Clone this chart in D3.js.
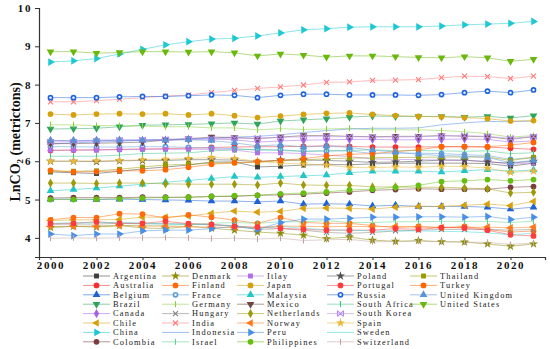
<!DOCTYPE html>
<html><head><meta charset="utf-8">
<script src="https://cdn.jsdelivr.net/npm/d3@7"></script>
<style>body{margin:0;background:#fff}svg{display:block}</style>
</head><body>
<svg id="chart" width="550" height="349"></svg>
<script>
const years = d3.range(2000, 2022);
const xTicks = [2000,2002,2004,2006,2008,2010,2012,2014,2016,2018,2020];
const yTicks = [4,5,6,7,8,9,10];

const argentina = [5.72,5.70,5.68,5.74,5.80,5.85,5.90,5.98,5.98,5.85,5.87,5.90,5.91,5.91,5.93,5.95,5.95,5.95,5.95,5.94,5.87,5.95];
const australia = [6.28,6.29,6.30,6.31,6.32,6.33,6.34,6.36,6.37,6.38,6.38,6.39,6.40,6.39,6.37,6.37,6.37,6.38,6.38,6.37,6.34,6.31];
const belgium = [5.01,5.01,5.00,5.01,5.00,4.99,4.98,4.96,4.96,4.94,4.96,4.88,4.89,4.88,4.83,4.85,4.82,4.82,4.82,4.80,4.75,4.80];
const brazil = [6.84,6.85,6.86,6.90,6.94,6.95,6.96,6.98,7.00,6.97,7.05,7.08,7.11,7.15,7.18,7.17,7.17,7.17,7.15,7.17,7.13,7.19];
const canada = [6.54,6.53,6.54,6.55,6.54,6.55,6.57,6.58,6.56,6.50,6.53,6.55,6.56,6.57,6.57,6.56,6.56,6.57,6.58,6.57,6.50,6.53];
const chile = [4.45,4.47,4.47,4.48,4.54,4.54,4.57,4.64,4.70,4.67,4.69,4.77,4.78,4.77,4.75,4.80,4.82,4.82,4.85,4.88,4.84,4.95];
const china = [8.59,8.62,8.68,8.80,8.92,9.04,9.12,9.19,9.21,9.27,9.35,9.43,9.46,9.50,9.51,9.51,9.51,9.53,9.56,9.58,9.60,9.65];
const colombia = [5.04,5.05,5.05,5.05,5.06,5.06,5.06,5.08,5.08,5.11,5.12,5.14,5.17,5.20,5.24,5.26,5.28,5.27,5.27,5.27,5.32,5.34];
const denmark = [4.27,4.30,4.28,4.32,4.26,4.24,4.30,4.25,4.20,4.15,4.12,4.07,3.98,4.02,3.94,3.91,3.93,3.90,3.89,3.84,3.78,3.84];
const finland = [4.47,4.53,4.53,4.63,4.62,4.52,4.60,4.54,4.46,4.38,4.53,4.40,4.38,4.38,4.32,4.27,4.30,4.27,4.30,4.22,4.15,4.18];
const france = [6.38,6.38,6.37,6.37,6.38,6.38,6.36,6.34,6.33,6.29,6.30,6.26,6.27,6.27,6.20,6.21,6.21,6.20,6.17,6.15,6.05,6.10];
const germany = [6.95,6.95,6.93,6.93,6.92,6.90,6.90,6.87,6.87,6.82,6.85,6.83,6.84,6.86,6.82,6.82,6.82,6.80,6.77,6.72,6.63,6.67];
const hungary = [4.35,4.36,4.36,4.38,4.37,4.37,4.36,4.34,4.32,4.22,4.24,4.20,4.14,4.12,4.14,4.18,4.20,4.22,4.22,4.22,4.20,4.22];
const india = [7.55,7.55,7.58,7.62,7.66,7.70,7.73,7.79,7.85,7.90,7.94,7.99,8.06,8.07,8.11,8.12,8.13,8.18,8.22,8.21,8.16,8.22];
const indonesia = [6.45,6.48,6.50,6.52,6.55,6.57,6.58,6.60,6.63,6.65,6.69,6.75,6.80,6.84,6.86,6.86,6.87,6.95,7.00,7.04,7.03,7.05];
const israel = [4.28,4.30,4.31,4.32,4.33,4.33,4.35,4.38,4.40,4.38,4.42,4.42,4.45,4.40,4.40,4.42,4.42,4.43,4.43,4.43,4.40,4.43];
const italy = [6.29,6.29,6.29,6.30,6.31,6.31,6.31,6.31,6.29,6.22,6.22,6.20,6.16,6.12,6.06,6.05,6.04,6.03,6.02,6.00,5.92,5.96];
const japan = [7.23,7.21,7.23,7.24,7.23,7.24,7.21,7.24,7.19,7.14,7.18,7.22,7.25,7.26,7.22,7.19,7.17,7.16,7.14,7.11,7.05,7.06];
const malaysia = [5.23,5.26,5.30,5.35,5.40,5.45,5.50,5.55,5.60,5.58,5.60,5.62,5.64,5.70,5.74,5.74,5.74,5.72,5.75,5.78,5.74,5.77];
const mexico = [6.46,6.46,6.47,6.48,6.50,6.55,6.59,6.63,6.62,6.59,6.63,6.67,6.67,6.65,6.64,6.65,6.65,6.67,6.65,6.64,6.57,6.64];
const netherlands = [5.43,5.43,5.42,5.43,5.43,5.41,5.40,5.40,5.40,5.38,5.43,5.38,5.37,5.37,5.33,5.33,5.32,5.32,5.30,5.28,5.17,5.19];
const norway = [4.30,4.30,4.30,4.32,4.31,4.30,4.29,4.28,4.27,4.27,4.31,4.30,4.29,4.30,4.29,4.30,4.28,4.27,4.27,4.28,4.26,4.28];
const peru = [4.10,4.06,4.10,4.10,4.18,4.20,4.20,4.24,4.30,4.22,4.40,4.49,4.49,4.51,4.54,4.54,4.55,4.55,4.54,4.56,4.48,4.54];
const philippines = [5.00,5.00,5.01,5.02,5.04,5.05,5.06,5.08,5.10,5.11,5.15,5.17,5.20,5.25,5.27,5.32,5.37,5.47,5.49,5.52,5.49,5.52];
const poland = [6.00,6.00,5.99,6.01,6.02,6.02,6.04,6.04,6.03,5.99,6.03,6.03,6.02,6.00,5.97,5.98,6.00,6.03,6.03,5.98,5.95,6.00];
const portugal = [4.37,4.38,4.42,4.38,4.38,4.43,4.37,4.35,4.30,4.28,4.25,4.22,4.20,4.20,4.20,4.24,4.22,4.27,4.26,4.20,4.08,4.05];
const russia = [7.66,7.66,7.66,7.68,7.69,7.69,7.71,7.73,7.72,7.66,7.72,7.75,7.75,7.73,7.73,7.73,7.72,7.74,7.79,7.83,7.79,7.86];
const southAfrica = [6.13,6.13,6.13,6.16,6.20,6.21,6.22,6.27,6.30,6.31,6.28,6.26,6.27,6.28,6.30,6.27,6.28,6.27,6.26,6.27,6.20,6.22];
const southKorea = [6.50,6.51,6.53,6.55,6.56,6.57,6.58,6.59,6.60,6.60,6.62,6.64,6.64,6.64,6.63,6.63,6.64,6.66,6.67,6.65,6.60,6.64];
const spain = [6.00,6.00,6.01,6.02,6.04,6.05,6.07,6.10,6.07,6.00,5.95,5.93,5.90,5.84,5.83,5.85,5.84,5.87,5.86,5.82,5.71,5.74];
const sweden = [4.38,4.39,4.40,4.40,4.39,4.36,4.36,4.34,4.31,4.25,4.30,4.25,4.21,4.20,4.18,4.18,4.18,4.17,4.16,4.13,4.08,4.12];
const switzerland = [3.99,4.00,3.99,4.00,4.00,4.01,4.00,3.98,3.99,3.97,3.99,3.93,3.95,3.96,3.90,3.90,3.91,3.90,3.89,3.88,3.83,3.86];
const thailand = [5.74,5.74,5.75,5.79,5.85,5.90,5.92,5.95,5.96,5.97,6.02,6.03,6.07,6.08,6.09,6.10,6.10,6.11,6.11,6.11,6.02,6.10];
const turkey = [5.76,5.72,5.73,5.75,5.75,5.78,5.84,5.92,5.96,5.99,6.02,6.07,6.14,6.18,6.20,6.25,6.30,6.38,6.38,6.38,6.42,6.49];
const unitedKingdom = [6.54,6.54,6.55,6.55,6.55,6.55,6.56,6.54,6.48,6.40,6.43,6.37,6.40,6.36,6.29,6.24,6.18,6.15,6.13,6.10,5.96,6.02];
const unitedStates = [8.86,8.86,8.82,8.84,8.86,8.86,8.85,8.86,8.83,8.75,8.80,8.77,8.72,8.75,8.75,8.73,8.71,8.70,8.73,8.70,8.61,8.66];

const countries = ["Argentina","Australia","Belgium","Brazil","Canada","Chile","China","Colombia",
  "Denmark","Finland","France","Germany","Hungary","India","Indonesia","Israel",
  "Itlay","Japan","Malaysia","Mexico","Netherlands","Norway","Peru","Philippines",
  "Poland","Portugal","Russia","South Africa","South Korea","Spain","Sweden","Switzerland",
  "Thailand","Turkey","United Kingdom","United States"];
const values = [argentina,australia,belgium,brazil,canada,chile,china,colombia,
  denmark,finland,france,germany,hungary,india,indonesia,israel,
  italy,japan,malaysia,mexico,netherlands,norway,peru,philippines,
  poland,portugal,russia,southAfrica,southKorea,spain,sweden,switzerland,
  thailand,turkey,unitedKingdom,unitedStates];

// styles (kept separate from the data)
const colors = ["#3d3d3d","#f2302e","#1e62d6","#2ea45c","#a860e6","#d6a10e","#1cc8d4","#7a3e3e",
  "#8c8c0a","#ff6a0a","#5b9bd9","#86d03a","#7f7f7f","#ff7b7b","#4a86e8","#5fd38d",
  "#b06ee8","#d4a00c","#22c6c6","#6e4545","#9d9a0a","#ff7a1a","#4a8fe7","#66bf10",
  "#505050","#ff3b3b","#1f64e0","#3cc487","#b48cf0","#e8b83a","#3ed6d6","#c4a3a3",
  "#999900","#ff6600","#5b93d3","#6ab80c"];
const markers = ["square","circle","triUp","triDown","diamond","triLeft","triRight","circle",
  "star","circle","halfCircle","tick","x","x","none","tick",
  "square","circle","triUp","triDown","diamond","triLeft","triRight","circle",
  "star","circle","halfCircle","tick","xbar","star","none","tick",
  "square","circle","triUp","triDown"];

const svg = d3.select("#chart");
const x = d3.scaleLinear().domain([1999.5, 2021.5]).range([39, 545]);
const y = d3.scaleLinear().domain([3.5, 10]).range([257, 8]);

function drawMarker(g, type, color) {
  const tri = d3.symbol(d3.symbolTriangle, 26)();
  if (type === "none") return;
  if (type === "square") g.append("path").attr("d", d3.symbol(d3.symbolSquare, 24)()).attr("fill", color);
  else if (type === "circle") g.append("path").attr("d", d3.symbol(d3.symbolCircle, 26)()).attr("fill", color);
  else if (type === "halfCircle") {
    g.append("path").attr("d", d3.symbol(d3.symbolCircle, 26)()).attr("fill", color);
    g.append("circle").attr("r", 1.2).attr("fill", "#fff");
  }
  else if (type === "diamond") g.append("path").attr("d", d3.symbol(d3.symbolDiamond, 24)()).attr("fill", color);
  else if (type === "star") g.append("path").attr("d", d3.symbol(d3.symbolStar, 26)()).attr("fill", color);
  else if (type === "triUp") g.append("path").attr("d", tri).attr("fill", color);
  else if (type === "triDown") g.append("path").attr("d", tri).attr("transform", "rotate(180)").attr("fill", color);
  else if (type === "triLeft") g.append("path").attr("d", tri).attr("transform", "rotate(-90)").attr("fill", color);
  else if (type === "triRight") g.append("path").attr("d", tri).attr("transform", "rotate(90)").attr("fill", color);
  else if (type === "tick") g.append("path").attr("d", "M0,-3L0,3").attr("stroke", color).attr("stroke-width", 1.1);
  else if (type === "x") g.append("path").attr("d", "M-2.5,-2.5L2.5,2.5M-2.5,2.5L2.5,-2.5").attr("stroke", color).attr("stroke-width", 1.1);
  else if (type === "xbar") g.append("path").attr("d", "M-2.5,-2.5L2.5,2.5M-2.5,2.5L2.5,-2.5M-3,-3L-3,3M3,-3L3,3").attr("stroke", color).attr("stroke-width", 1.1);
}

// axes
const yAxis = svg.append("g").attr("transform", "translate(39,0)")
  .call(d3.axisLeft(y).tickValues(yTicks).tickSize(4).tickPadding(3).tickFormat(d3.format("d")));
const xAxis = svg.append("g").attr("transform", "translate(0,257)")
  .call(d3.axisBottom(x).tickValues(xTicks).tickSize(3).tickPadding(1).tickFormat(d3.format("d")));
[yAxis, xAxis].forEach(a => {
  a.select(".domain").attr("stroke", "#333").attr("stroke-width", 1.2);
  a.selectAll(".tick line").attr("stroke", "#333");
  a.selectAll("text").attr("font-family", "'Liberation Serif', serif").attr("font-weight", "bold")
    .attr("font-size", 11).attr("letter-spacing", 1.6).attr("fill", "#111");
});

// y label
const yl = svg.append("text").attr("transform", "translate(20,142) rotate(-90)")
  .attr("text-anchor", "middle").attr("font-family", "'Liberation Serif', serif")
  .attr("font-weight", "bold").attr("font-size", 14).attr("fill", "#111");
yl.append("tspan").text("LnCO");
yl.append("tspan").text("2").attr("font-size", 9).attr("dy", 3);
yl.append("tspan").text(" (metrictons)").attr("dy", -3);

// series
const line = d3.line().x((d, i) => x(years[i])).y(d => y(d));
const plot = svg.append("g");
values.forEach((vals, k) => {
  plot.append("path").datum(vals).attr("d", line).attr("fill", "none")
    .attr("stroke", colors[k]).attr("stroke-opacity", 0.5).attr("stroke-width", 1);
});
values.forEach((vals, k) => {
  vals.forEach((v, i) => {
    const g = plot.append("g").attr("transform", `translate(${x(years[i])},${y(v)})`);
    drawMarker(g, markers[k], colors[k]);
  });
});

// legend
const colLineX = [83, 162, 237, 327, 410];
const legend = svg.append("g");
countries.forEach((name, k) => {
  const col = Math.floor(k / 8), row = k % 8;
  const ly = 276 + row * 9.4;
  const lx = colLineX[col];
  legend.append("line").attr("x1", lx).attr("x2", lx + 27).attr("y1", ly).attr("y2", ly)
    .attr("stroke", colors[k]).attr("stroke-opacity", 0.55).attr("stroke-width", 1);
  const g = legend.append("g").attr("transform", `translate(${lx + 13.5},${ly})`);
  drawMarker(g, markers[k], colors[k]);
  legend.append("text").attr("x", lx + 30).attr("y", ly).attr("dy", "0.33em")
    .attr("font-family", "'Liberation Serif', serif").attr("font-size", 8.4)
    .attr("letter-spacing", 1.2).attr("fill", "#222").text(name);
});
</script>
</body></html>
